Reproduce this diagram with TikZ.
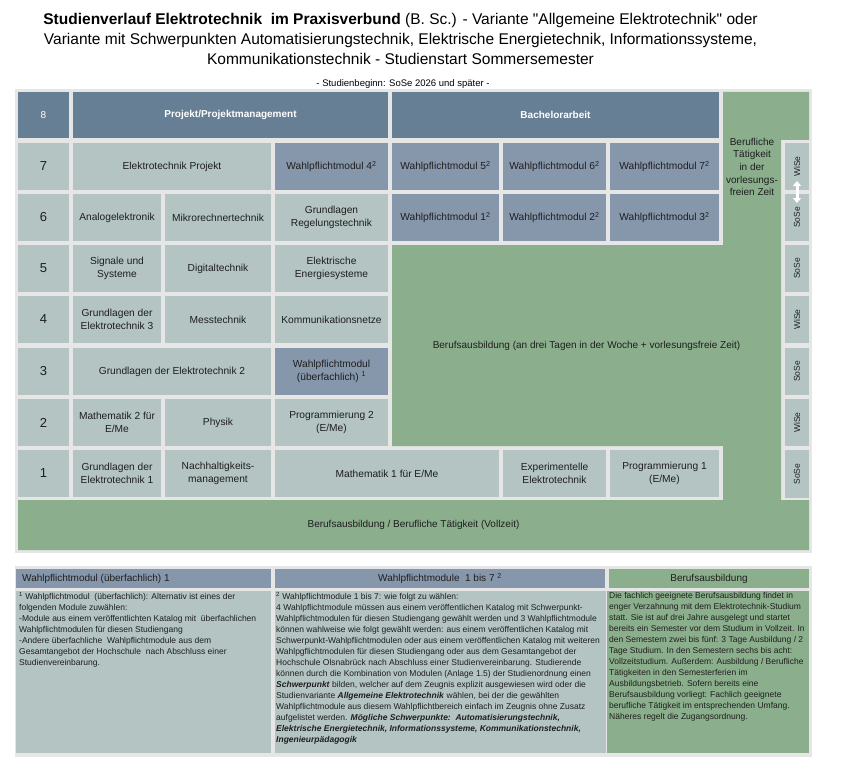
\documentclass[tikz,border=0pt]{standalone}
\usepackage{fontspec}
\setmainfont{Liberation Sans}
\usetikzlibrary{arrows.meta}
\definecolor{framec}{HTML}{E6E6E6}
\definecolor{darkc}{HTML}{677F95}
\definecolor{wpmc}{HTML}{8797AB}
\definecolor{modc}{HTML}{B3C4C2}
\definecolor{grnc}{HTML}{8BAF8C}
\definecolor{txtc}{HTML}{1E1E1E}
\newcommand\cell[7]{\pgfmathsetmacro\mycw{#4-#2}\pgfmathsetmacro\mych{#5-#3}%
  \node[#6, minimum width=\mycw pt, minimum height=\mych pt, anchor=north west] (#1) at (#2,#3) {#7};}
\begin{document}
\begin{tikzpicture}[x=1pt,y=-1pt,
  box/.style={inner sep=0pt, outer sep=0pt, align=center, text=txtc, font=\fontsize{10.2}{12.7}\selectfont},
  modbox/.style={box, fill=modc},
  wpmbox/.style={box, fill=wpmc},
  darkbox/.style={box, fill=darkc, text=white, font=\fontsize{10}{12.7}\selectfont\bfseries},
  numbox/.style={box, fill=modc, font=\fontsize{13}{14}\selectfont},
  sembox/.style={box, fill=modc},
  semtext/.style={inner sep=0pt, rotate=90, text=txtc, font=\fontsize{8.5}{9}\selectfont},
  gtext/.style={inner sep=0pt, align=center, text=txtc, font=\fontsize{10}{12.6}\selectfont},
  bodytext/.style={inner sep=0pt, anchor=north west, align=left, text=txtc, font=\fontsize{8.5}{11}\selectfont},
  hdrtext/.style={inner sep=0pt, text=txtc, font=\fontsize{10}{12}\selectfont}]
\useasboundingbox (0,0) rectangle (845,762);
\fill[white] (0,0) rectangle (845,762);
% title
\node[align=center, inner sep=0pt, font=\fontsize{15.5}{20}\selectfont] (title) at (400.5,39)
 {\textbf{Studienverlauf Elektrotechnik\ \ im Praxisverbund} (B. Sc.) - Variante \textquotedbl Allgemeine Elektrotechnik\textquotedbl{} oder\\
  Variante mit Schwerpunkten Automatisierungstechnik, Elektrische Energietechnik, Informationssysteme,\\
  Kommunikationstechnik - Studienstart Sommersemester};
\node[inner sep=0pt, font=\fontsize{9.5}{10}\selectfont] (sub) at (403,84) {- Studienbeginn: SoSe 2026 und später -};
% frame
\fill[framec] (15,89) rectangle (812,553);
% green area
\fill[grnc] (723,92) -- (809,92) -- (809,140) -- (781,140) -- (781,500) -- (809,500) -- (809,550)
  -- (18,550) -- (18,500) -- (723,500) -- (723,446) -- (392,446) -- (392,245) -- (723,245) -- cycle;
\node[gtext] (bav) at (586.5,345.5) {Berufsausbildung (an drei Tagen in der Woche + vorlesungsfreie Zeit)};
\node[gtext] (bt) at (752,167) {Berufliche\\Tätigkeit\\in der\\vorlesungs-\\freien Zeit};
\node[gtext] (bvz) at (413.5,525) {Berufsausbildung / Berufliche Tätigkeit (Vollzeit)};
% row 8
\cell{n8}{18}{92}{69}{138}{darkbox, font=\fontsize{10}{12}\selectfont}{8}
\cell{pm}{73}{92}{388}{138}{darkbox}{Projekt/Projektmanagement}
\cell{ba}{392}{92}{719}{138}{darkbox}{Bachelorarbeit}
% row 7
\cell{n7}{18}{143}{69}{190}{numbox}{7}
\cell{etp}{73}{143}{271}{190}{modbox}{Elektrotechnik Projekt}
\cell{w4}{275}{143}{388}{190}{wpmbox}{Wahlpflichtmodul 4\textsuperscript{2}}
\cell{w5}{392}{143}{499}{190}{wpmbox}{Wahlpflichtmodul 5\textsuperscript{2}}
\cell{w6}{503}{143}{606}{190}{wpmbox}{Wahlpflichtmodul 6\textsuperscript{2}}
\cell{w7}{610}{143}{719}{190}{wpmbox}{Wahlpflichtmodul 7\textsuperscript{2}}
% row 6
\cell{n6}{18}{194}{69}{241}{numbox}{6}
\cell{ana}{73}{194}{161}{241}{modbox}{Analogelektronik}
\cell{mik}{165}{194}{271}{241}{modbox}{Mikrorechnertechnik}
\cell{reg}{275}{194}{388}{241}{modbox}{Grundlagen\\Regelungstechnik}
\cell{w1}{392}{194}{499}{241}{wpmbox}{Wahlpflichtmodul 1\textsuperscript{2}}
\cell{w2}{503}{194}{606}{241}{wpmbox}{Wahlpflichtmodul 2\textsuperscript{2}}
\cell{w3}{610}{194}{719}{241}{wpmbox}{Wahlpflichtmodul 3\textsuperscript{2}}
% row 5
\cell{n5}{18}{245}{69}{292}{numbox}{5}
\cell{sig}{73}{245}{161}{292}{modbox}{Signale und\\Systeme}
\cell{dig}{165}{245}{271}{292}{modbox}{Digitaltechnik}
\cell{ees}{275}{245}{388}{292}{modbox}{Elektrische\\Energiesysteme}
% row 4
\cell{n4}{18}{296}{69}{343}{numbox}{4}
\cell{get3}{73}{296}{161}{343}{modbox}{Grundlagen der\\Elektrotechnik 3}
\cell{mes}{165}{296}{271}{343}{modbox}{Messtechnik}
\cell{kom}{275}{296}{388}{343}{modbox}{Kommunikationsnetze}
% row 3
\cell{n3}{18}{348}{69}{395}{numbox}{3}
\cell{get2}{73}{348}{271}{395}{modbox}{Grundlagen der Elektrotechnik 2}
\cell{wue}{275}{348}{388}{395}{wpmbox}{Wahlpflichtmodul\\(überfachlich) \textsuperscript{1}}
% row 2
\cell{n2}{18}{399}{69}{446}{numbox}{2}
\cell{ma2}{73}{399}{161}{446}{modbox}{Mathematik 2 für\\E/Me}
\cell{phy}{165}{399}{271}{446}{modbox}{Physik}
\cell{pr2}{275}{399}{388}{446}{modbox}{Programmierung 2\\(E/Me)}
% row 1
\cell{n1}{18}{450}{69}{497}{numbox}{1}
\cell{get1}{73}{450}{161}{497}{modbox}{Grundlagen der\\Elektrotechnik 1}
\cell{nach}{165}{450}{271}{497}{modbox}{Nachhaltigkeits-\\management}
\cell{ma1}{275}{450}{499}{497}{modbox}{Mathematik 1 für E/Me}
\cell{exp}{503}{450}{606}{497}{modbox}{Experimentelle\\Elektrotechnik}
\cell{pr1}{610}{450}{719}{497}{modbox}{Programmierung 1\\(E/Me)}
% semester column
\cell{s7}{785}{143}{809}{190}{sembox}{}
\cell{s6}{785}{194}{809}{241}{sembox}{}
\cell{s5}{785}{245}{809}{292}{sembox}{}
\cell{s4}{785}{296}{809}{343}{sembox}{}
\cell{s3}{785}{348}{809}{395}{sembox}{}
\cell{s2}{785}{399}{809}{446}{sembox}{}
\cell{s1}{785}{450}{809}{498}{sembox}{}
\node[semtext] (t7) at (s7.center) {WiSe};
\node[semtext] (t6) at (s6.center) {SoSe};
\node[semtext] (t5) at (s5.center) {SoSe};
\node[semtext] (t4) at (s4.center) {WiSe};
\node[semtext] (t3) at (s3.center) {SoSe};
\node[semtext] (t2) at (s2.center) {WiSe};
\node[semtext] (t1) at (s1.center) {SoSe};
\coordinate (atop) at (797,181);
\coordinate (abot) at (797,203);
\draw[white, line width=3pt, {Triangle[width=8pt,length=5pt]}-{Triangle[width=8pt,length=5pt]}] (atop) -- (abot);
% bottom legend
\fill[framec] (15,566) rectangle (812,757);
\cell{h1}{16}{569}{271}{588}{box, fill=wpmc}{}
\cell{h2}{275}{569}{605}{588}{box, fill=wpmc}{}
\cell{h3}{609}{569}{809}{588}{box, fill=grnc}{}
\node[hdrtext, anchor=west] (h1t) at (22,578.5) {Wahlpflichtmodul (überfachlich) 1};
\node[hdrtext] (h2t) at (h2.center) {Wahlpflichtmodule\ \ 1 bis 7 \textsuperscript{2}};
\node[hdrtext] (h3t) at (h3.center) {Berufsausbildung};
\cell{b1}{16}{591}{271}{753}{box, fill=modc}{}
\cell{b2}{275}{591}{606}{753}{box, fill=modc}{}
\cell{b3}{607}{591}{809}{753}{box, fill=grnc}{}
\node[bodytext] (b1t) at (19,592) {\textsuperscript{1} Wahlpflichtmodul\ \ (überfachlich): Alternativ ist eines der\\
folgenden Module zuwählen:\\
-Module aus einem veröffentlichten Katalog mit\ \ überfachlichen\\
Wahlpflichtmodulen für diesen Studiengang\\
-Andere überfachliche\ \ Wahlpflichtmodule aus dem\\
Gesamtangebot der Hochschule\ \ nach Abschluss einer\\
Studienvereinbarung.};
\node[bodytext] (b2t) at (276,592) {\textsuperscript{2} Wahlpflichtmodule 1 bis 7: wie folgt zu wählen:\\
4 Wahlpflichtmodule müssen aus einem veröffentlichen Katalog mit Schwerpunkt-\\
Wahlpflichtmodulen für diesen Studiengang gewählt werden und 3 Wahlpflichtmodule\\
können wahlweise wie folgt gewählt werden: aus einem veröffentlichen Katalog mit\\
Schwerpunkt-Wahlpflichtmodulen oder aus einem veröffentlichen Katalog mit weiteren\\
Wahlpgflichtmodulen für diesen Studiengang oder aus dem Gesamtangebot der\\
Hochschule Olsnabrück nach Abschluss einer Studienvereinbarung. Studierende\\
können durch die Kombination von Modulen (Anlage 1.5) der Studienordnung einen\\
\textbf{\textit{Schwerpunkt}} bilden, welcher auf dem Zeugnis explizit ausgewiesen wird oder die\\
Studienvariante \textbf{\textit{Allgemeine Elektrotechnik}} wählen, bei der die gewählten\\
Wahlpflichtmodule aus diesem Wahlpflichtbereich einfach im Zeugnis ohne Zusatz\\
aufgelistet werden. \textbf{\textit{Mögliche Schwerpunkte:\ \ Automatisierungstechnik,}}\\
\textbf{\textit{Elektrische Energietechnik, Informationssysteme, Kommunikationstechnik,}}\\
\textbf{\textit{Ingenieurpädagogik}}};
\node[bodytext] (b3t) at (609,592) {Die fachlich geeignete Berufsausbildung findet in\\
enger Verzahnung mit dem Elektrotechnik-Studium\\
statt. Sie ist auf drei Jahre ausgelegt und startet\\
bereits ein Semester vor dem Studium in Vollzeit. In\\
den Semestern zwei bis fünf: 3 Tage Ausbildung / 2\\
Tage Studium. In den Semestern sechs bis acht:\\
Vollzeitstudium. Außerdem: Ausbildung / Berufliche\\
Tätigkeiten in den Semesterferien im\\
Ausbildungsbetrieb. Sofern bereits eine\\
Berufsausbildung vorliegt: Fachlich geeignete\\
berufliche Tätigkeit im entsprechenden Umfang.\\
Näheres regelt die Zugangsordnung.};
\end{tikzpicture}
\end{document}
